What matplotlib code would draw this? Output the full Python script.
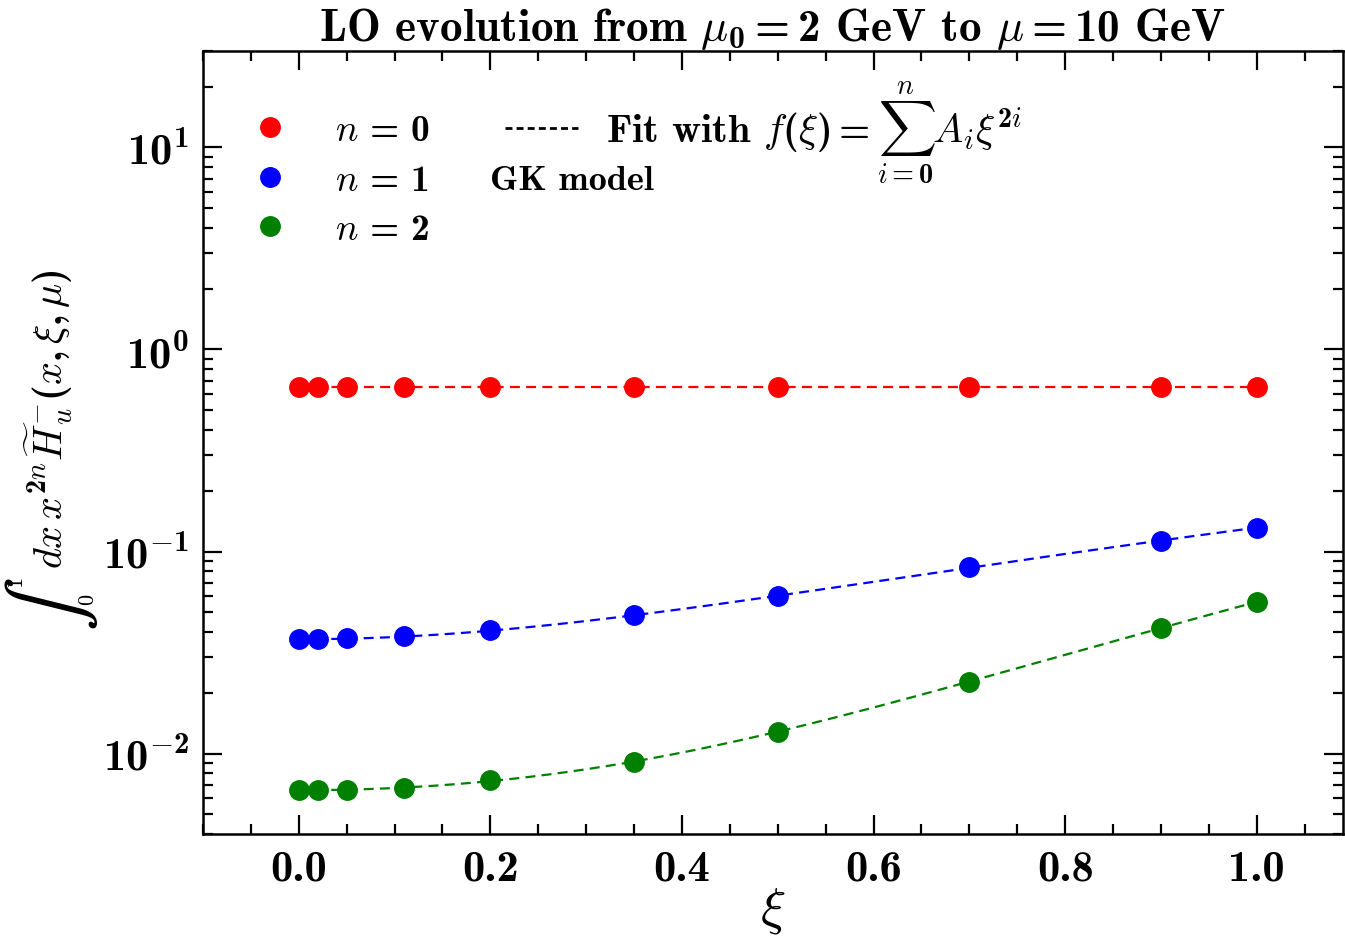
import numpy as np
import matplotlib
matplotlib.use("Agg")
import matplotlib.pyplot as plt
from matplotlib.ticker import FixedLocator, AutoMinorLocator, FuncFormatter, LogLocator, NullFormatter
from matplotlib.lines import Line2D

plt.rcParams['mathtext.fontset'] = 'custom'
plt.rcParams['mathtext.rm'] = 'cmb10'
plt.rcParams['mathtext.bf'] = 'cmb10'
plt.rcParams['mathtext.it'] = 'cmmi10'
plt.rcParams['mathtext.fallback'] = 'cm'
plt.rcParams['font.family'] = ['cmb10', 'DejaVu Serif']
plt.rcParams['axes.unicode_minus'] = False

# ---- data ----
xi = [0.0, 0.02, 0.05, 0.11, 0.2, 0.35, 0.5, 0.7, 0.9, 1.0]
n0 = [0.649, 0.649, 0.649, 0.649, 0.649, 0.649, 0.649, 0.649, 0.649, 0.649]
n1 = [0.0368, 0.0368, 0.0372, 0.0380, 0.0407, 0.0483, 0.0600, 0.0834, 0.1133, 0.1314]
n2 = [0.00657, 0.00657, 0.00664, 0.00679, 0.00736, 0.00913, 0.01285, 0.02268, 0.0419, 0.0563]
series = [(n0, 'red', 0, r'$n\,=\,0$'), (n1, 'blue', 1, r'$n\,=\,1$'), (n2, 'green', 2, r'$n\,=\,2$')]
xticks = [0.0, 0.2, 0.4, 0.6, 0.8, 1.0]

W, H = 1345, 937
fig = plt.figure(figsize=(W/100, H/100), dpi=100)
ax = fig.add_axes([203/W, 1-835/H, (1343-203)/W, (835-52)/H])

xa = np.asarray(xi)
xf = np.linspace(0, 1, 300)
handles = []
for vals, col, deg, lab in series:
    coef = np.polyfit(xa**2, np.asarray(vals), deg)
    ax.plot(xf, np.polyval(coef, xf**2), ls='--', color=col, lw=1.6, dashes=(4.5, 2.8), zorder=2)
    h, = ax.plot(xi, vals, 'o', color=col, ms=14, mec=col, zorder=3, label=lab)
    handles.append(h)

ax.set_yscale('log')
ax.set_ylim(0.004, 30)
ax.set_xlim(-0.1, 1.09)

ax.xaxis.set_major_locator(FixedLocator(xticks))
ax.xaxis.set_minor_locator(AutoMinorLocator(4))
ax.xaxis.set_major_formatter(FuncFormatter(lambda v, p: '%.1f' % v))
ax.yaxis.set_major_locator(LogLocator(base=10, numticks=10))
ax.yaxis.set_minor_locator(LogLocator(base=10, subs=np.arange(2, 10), numticks=10))
ax.yaxis.set_minor_formatter(NullFormatter())
ax.yaxis.set_major_formatter(FuncFormatter(lambda v, p: r'$10^{%d}$' % round(np.log10(v))))

ax.tick_params(which='both', direction='in', top=True, right=True, width=1.6, labelsize=32)
ax.tick_params(which='major', length=14)
ax.tick_params(axis='x', which='major', pad=11)
ax.tick_params(axis='y', which='major', pad=10)
ax.tick_params(which='minor', length=7)
for s in ax.spines.values():
    s.set_linewidth(1.8)

ax.set_xlabel(r'$\xi$', fontsize=38, labelpad=-2)
# y label: large display-style integral with its limits, followed by the integrand
ax.set_ylabel(r'$dx\, x^{2n}\widetilde{H}_u^{-}(x,\xi,\mu)$', fontsize=29)
ax.yaxis.set_label_coords(-0.112, (835-419)/783)
fig.text(51/W, 1-604/H, r'$\int$', fontsize=58, rotation=90, ha='center', va='center',
         math_fontfamily='stix')
fig.text(15/W, 1-581/H, '1', fontsize=16, family='cmr10', rotation=90, ha='center', va='center')
fig.text(87/W, 1-599/H, '0', fontsize=16, family='cmr10', rotation=90, ha='center', va='center')

ax.set_title(r'LO evolution from $\mu_0=2$ GeV to $\mu=10$ GeV', fontsize=32.5, pad=6)

leg1 = ax.legend(handles=handles, loc='upper left', bbox_to_anchor=(0.039, 0.92), frameon=False,
                 fontsize=27, handletextpad=1.13, labelspacing=0.44, borderaxespad=0.0,
                 borderpad=0.0, handlelength=1.2)
ax.add_artist(leg1)
fit_h = Line2D([], [], color='black', ls='--', lw=2.0, dashes=(2.5, 1.5))
leg2 = ax.legend(handles=[fit_h], labels=[r'Fit with $f(\xi)=\sum_{i=0}^{n}A_i\xi^{2i}$'],
                 loc='upper left', bbox_to_anchor=(0.265, 0.965), frameon=False, fontsize=29,
                 handlelength=1.8, handletextpad=0.7, borderaxespad=0.0, borderpad=0.0)
ax.text((490-203)/1140, (835-182)/783, 'GK model', transform=ax.transAxes, fontsize=26,
        ha='left', va='center')

fig.savefig('out.png', dpi=100)
